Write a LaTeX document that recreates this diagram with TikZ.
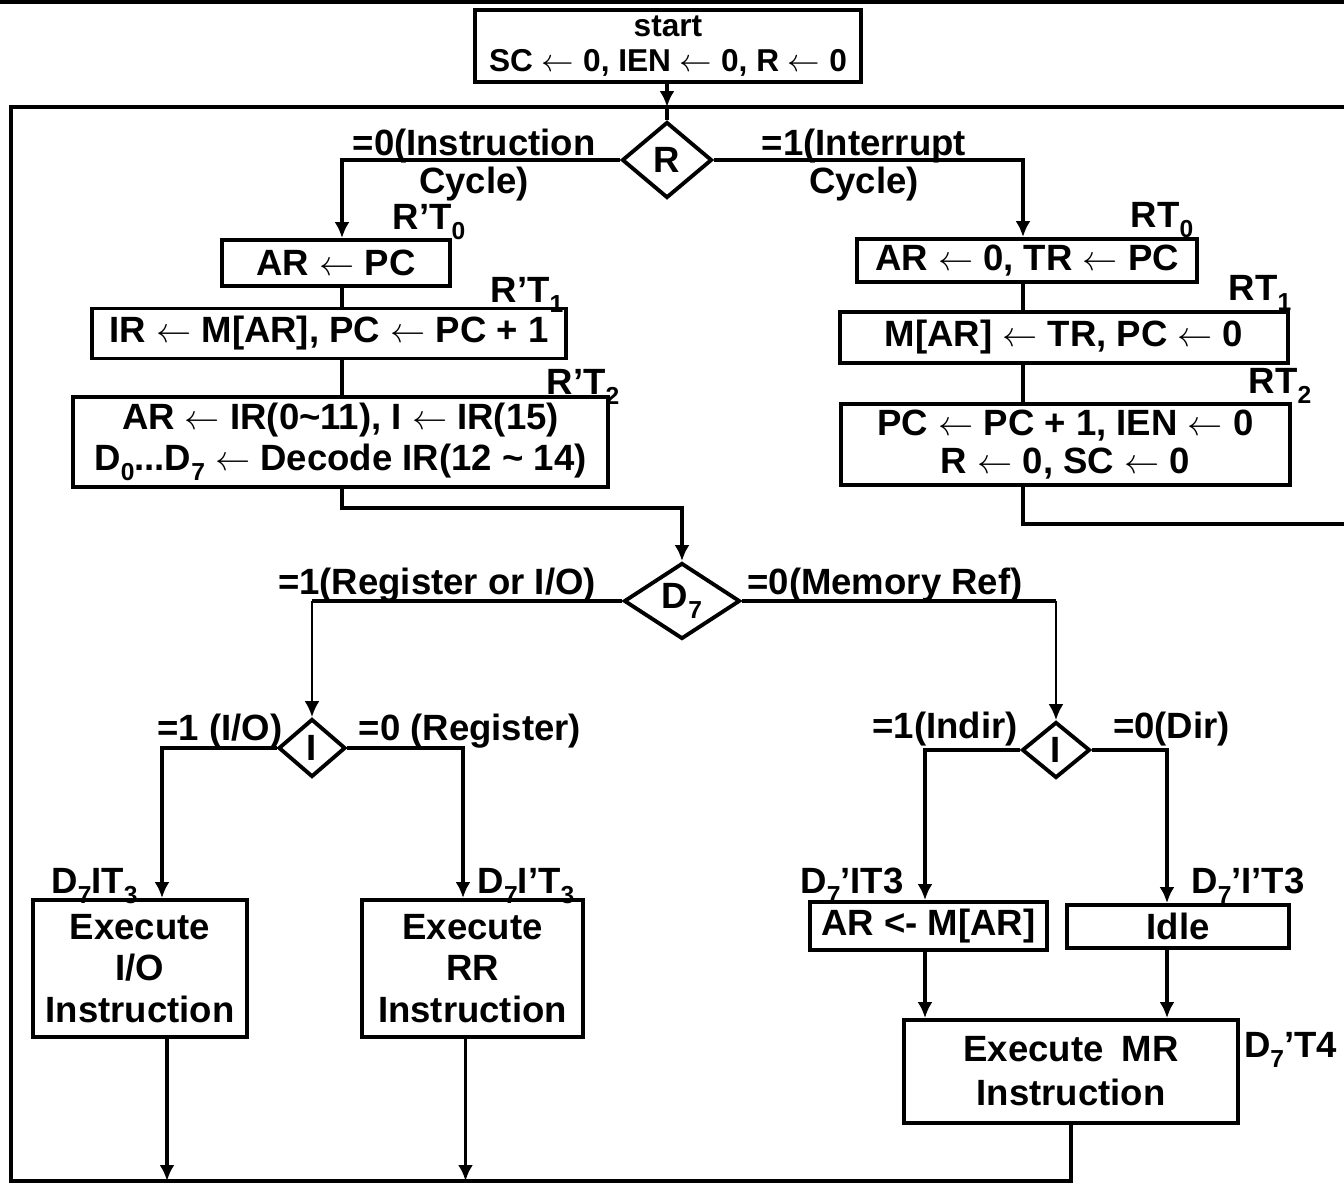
\documentclass[tikz,border=0pt]{standalone}
\usepackage{fontspec}
\setmainfont{Liberation Sans}
\usetikzlibrary{positioning, arrows.meta, calc, shapes.geometric}

\newcommand{\subidx}[1]{\raisebox{-2.8pt}{\fontsize{7}{7}\selectfont #1}}
\newcommand{\getsarrow}{\ensuremath{\leftarrow}}

\begin{document}
\begin{tikzpicture}[line width=1.1pt, >={Latex[length=4.5pt,width=4.2pt]},
    every node/.style={font=\bfseries\fontsize{10.4}{11.8}\selectfont, inner sep=0pt},
    lh/.style={font=\bfseries\fontsize{10.4}{#1}\selectfont},
    box/.style={draw, rectangle, align=center},
    decision/.style={draw, diamond, aspect=1},
    cond/.style={align=center},
    thinwire/.style={line width=0.7pt}]

    \useasboundingbox (0,0) rectangle (13.44,-11.87);

    % ================= Start =================
    \node[box, minimum width=3.86cm, minimum height=0.72cm,
          font=\bfseries\fontsize{9}{9.8}\selectfont] (start) at (6.68,-0.46)
          {start\\SC \getsarrow{} 0, IEN \getsarrow{} 0, R \getsarrow{} 0};
    \node[decision, minimum width=0.90cm, minimum height=0.76cm] (R) at (6.67,-1.60) {R};

    % ================= Instruction cycle (left) =================
    \node[box, minimum width=2.28cm, minimum height=0.46cm] (ARPC) at (3.36,-2.63) {AR \getsarrow{} PC};
    \node[box, minimum width=4.74cm, minimum height=0.50cm] (IRM) at (3.29,-3.335)
        {IR \getsarrow{} M[AR], PC \getsarrow{} PC + 1};
    \node[box, minimum width=5.35cm, minimum height=0.90cm] (ARIR) at (3.405,-4.42)
        {AR \getsarrow{} IR(0\textasciitilde 11), I \getsarrow{} IR(15)\\D\subidx{0}...D\subidx{7} \getsarrow{} Decode IR(12 \textasciitilde{} 14)};

    % ================= Interrupt cycle (right) =================
    \node[box, minimum width=3.40cm, minimum height=0.43cm] (ART) at (10.27,-2.605)
        {AR \getsarrow{} 0, TR \getsarrow{} PC};
    \node[box, minimum width=4.48cm, minimum height=0.51cm] (MAR) at (10.64,-3.375)
        {M[AR] \getsarrow{} TR, PC \getsarrow{} 0};
    \node[box, lh=10.8pt, minimum width=4.49cm, minimum height=0.81cm] (PCB) at (10.655,-4.445)
        {PC \getsarrow{} PC + 1, IEN \getsarrow{} 0\\R \getsarrow{} 0, SC \getsarrow{} 0};

    % ================= Decode =================
    \node[decision, minimum width=1.16cm, minimum height=0.76cm] (D7) at (6.82,-6.01) {D\subidx{7}};
    \node[decision, minimum width=0.67cm, minimum height=0.58cm] (IL) at (3.12,-7.48) {I};
    \node[decision, minimum width=0.68cm, minimum height=0.56cm] (IM) at (10.56,-7.50) {I};

    \node[box, minimum width=2.14cm, minimum height=1.37cm] (EIO) at (1.40,-9.685) {Execute\\I/O\\Instruction};
    \node[box, minimum width=2.21cm, minimum height=1.37cm] (ERR) at (4.725,-9.685) {Execute\\RR\\Instruction};
    \node[box, minimum width=2.37cm, minimum height=0.48cm] (ARM) at (9.285,-9.26) {AR <- M[AR]};
    \node[box, minimum width=2.22cm, minimum height=0.43cm] (Idle) at (11.78,-9.265) {Idle};
    \node[box, lh=12.5pt, minimum width=3.34cm, minimum height=1.03cm] (EMR) at (10.71,-10.715)
        {Execute\enspace MR\\Instruction};

    % ================= Branch texts =================
    \node[cond, lh=10.8pt] (c0) at (4.74,-1.655) {=0(Instruction\\Cycle)};
    \node[cond, lh=10.8pt] (c1) at (8.64,-1.655) {=1(Interrupt\\Cycle)};
    \node (c2) at (4.37,-5.85) {=1(Register or I/O)};
    \node (c3) at (8.85,-5.85) {=0(Memory Ref)};
    \node (c4) at (2.20,-7.31) {=1 (I/O)};
    \node (c5) at (4.70,-7.31) {=0 (Register)};
    \node (c6) at (9.45,-7.29) {=1(Indir)};
    \node (c7) at (11.715,-7.29) {=0(Dir)};

    % ================= Timing signals =================
    \node (t0) at (4.29,-2.22) {R’T\subidx{0}};
    \node (t1) at (5.27,-2.95) {R’T\subidx{1}};
    \node (t2) at (5.83,-3.87) {R’T\subidx{2}};
    \node (t3) at (11.62,-2.20) {RT\subidx{0}};
    \node (t4) at (12.60,-2.93) {RT\subidx{1}};
    \node (t5) at (12.80,-3.86) {RT\subidx{2}};
    \node (t6) at (0.945,-8.86) {D\subidx{7}IT\subidx{3}};
    \node (t7) at (5.26,-8.86) {D\subidx{7}I’T\subidx{3}};
    \node (t8) at (8.52,-8.86) {D\subidx{7}’IT3};
    \node (t9) at (12.48,-8.86) {D\subidx{7}’I’T3};
    \node (t10) at (12.905,-10.50) {D\subidx{7}’T4};

    % ================= Wiring =================
    \coordinate (jtop) at (6.67,-1.07);
    \coordinate (cL) at (3.42,0);
    \coordinate (cR) at (10.23,0);
    \coordinate (bot) at (0.11,-11.81);
    \coordinate (edge) at (13.47,-1.07);
    \coordinate (ret) at (13.47,-5.24);

    \draw (0,-0.02) -- (13.44,-0.02);

    % start -> R
    \draw[->] (start.south -| jtop) -- (jtop);
    \draw (jtop) -- (R.north);

    % loop back to R
    \draw (EMR.south) |- (bot) |- (edge);
    \draw (PCB.south -| cR) |- (ret) -- (edge);

    % R branches
    \draw[->] (R.west) -| (ARPC.north -| cL);
    \draw[->] (R.east) -| (ART.north -| cR);
    \draw (ARPC.south -| cL) -- (IRM.north -| cL);
    \draw (IRM.south -| cL) -- (ARIR.north -| cL);
    \draw[->] (ARIR.south -| cL) -- ++(0,-0.19) -| (D7.north);
    \draw (ART.south -| cR) -- (MAR.north -| cR);
    \draw (MAR.south -| cR) -- (PCB.north -| cR);

    % D7 branches
    \draw (D7.west) -- (D7.west -| IL.north);
    \draw[thinwire, ->] (D7.west -| IL.north) -- (IL.north);
    \draw (D7.east) -- (D7.east -| IM.north);
    \draw[thinwire, ->] (D7.east -| IM.north) -- (IM.north);

    % I branches
    \draw[->] (IL.west) -| ([xshift=0.22cm]EIO.north);
    \draw[->] (IL.east) -| ([xshift=-0.095cm]ERR.north);
    \draw[->] (IM.west) -| ([xshift=-0.035cm]ARM.north);
    \draw[->] (IM.east) -| ([xshift=-0.11cm]Idle.north);

    \draw[->] ([xshift=-0.035cm]ARM.south) -- ([xshift=-0.035cm]ARM.south |- EMR.north);
    \draw[->] ([xshift=-0.11cm]Idle.south) -- ([xshift=-0.11cm]Idle.south |- EMR.north);
    \draw[->] ([xshift=0.27cm]EIO.south) -- ([xshift=0.27cm]EIO.south |- bot);
    \draw[->] ([xshift=-0.07cm]ERR.south) -- ([xshift=-0.07cm]ERR.south |- bot);

\end{tikzpicture}
\end{document}
